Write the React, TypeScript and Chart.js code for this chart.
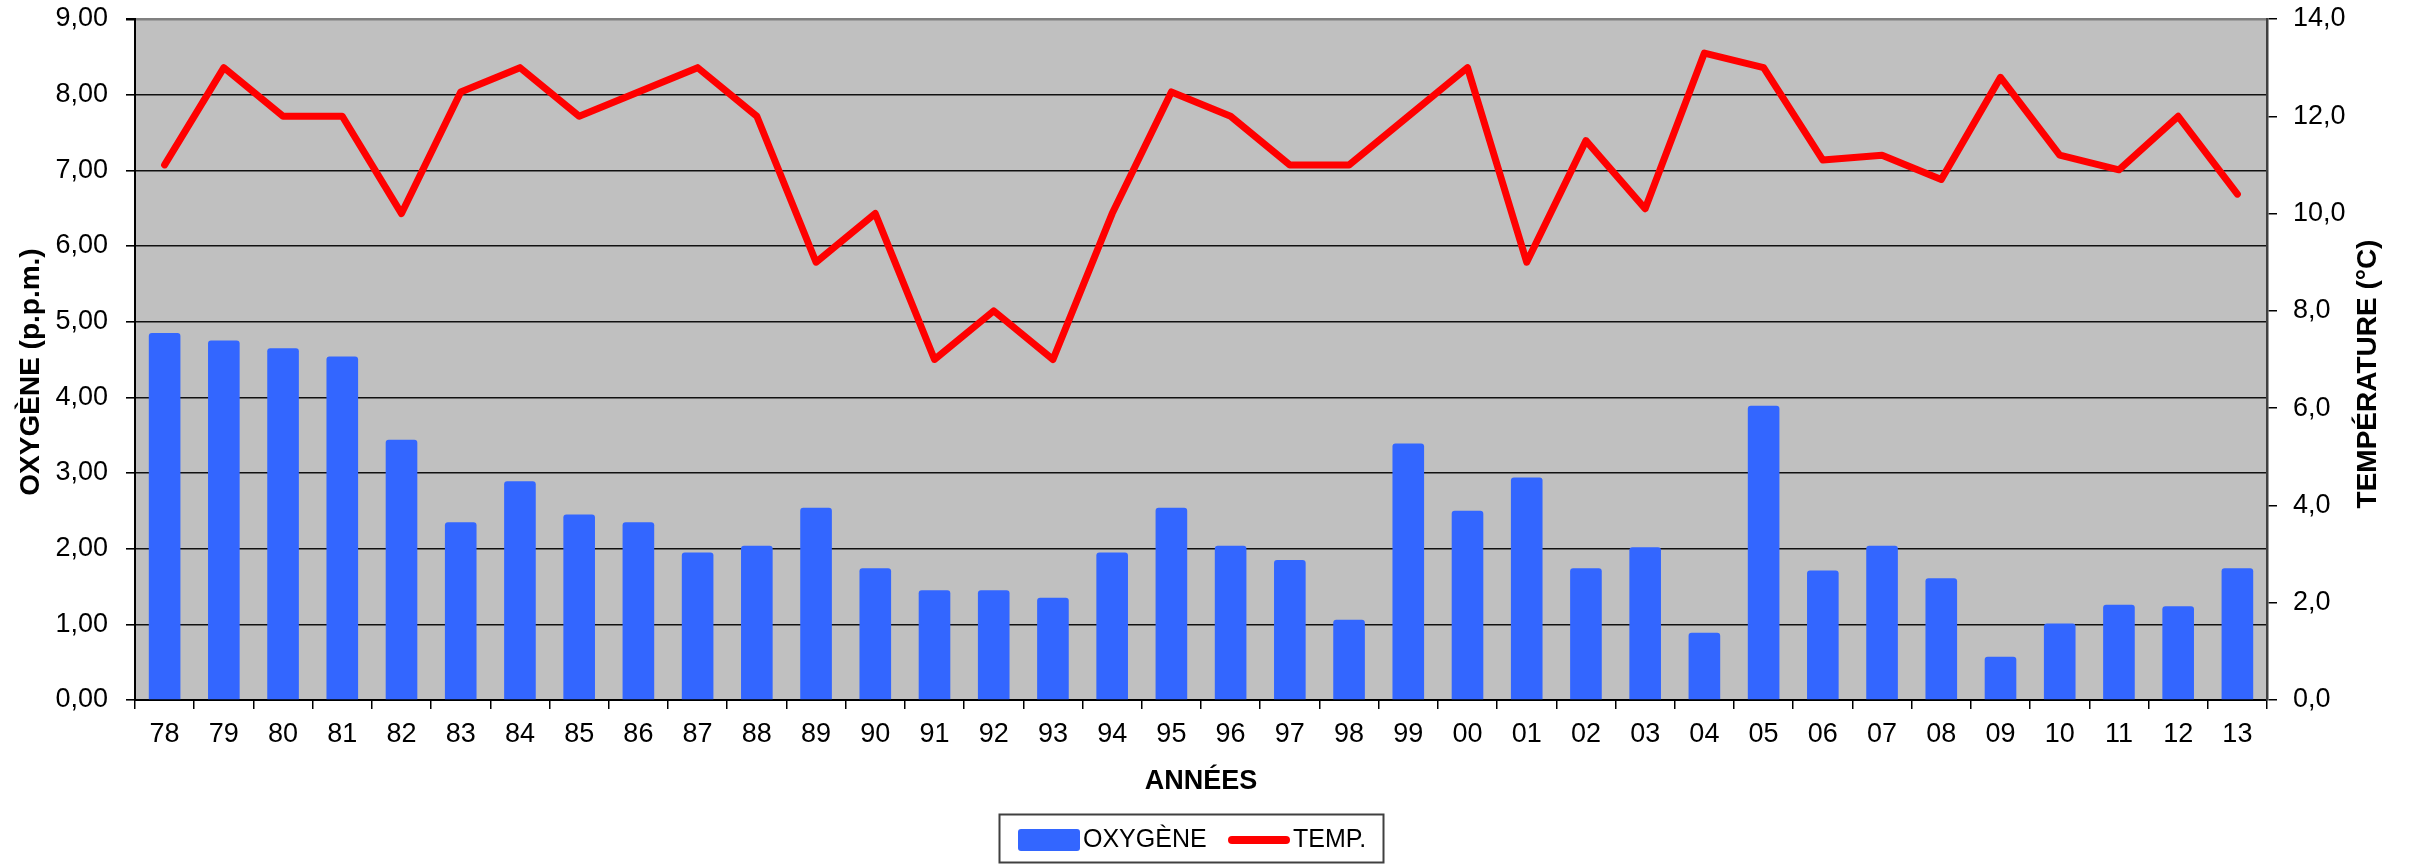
import React, { useEffect, useRef } from 'react';
import { Chart, registerables } from 'chart.js';

Chart.register(...registerables);

const years = ['78', '79', '80', '81', '82', '83', '84', '85', '86', '87', '88', '89', '90', '91', '92', '93', '94', '95', '96', '97', '98', '99', '00', '01', '02', '03', '04', '05', '06', '07', '08', '09', '10', '11', '12', '13'];
const oxygen = [4.85, 4.75, 4.65, 4.54, 3.44, 2.35, 2.89, 2.45, 2.35, 1.95, 2.04, 2.54, 1.74, 1.45, 1.45, 1.35, 1.95, 2.54, 2.04, 1.85, 1.06, 3.39, 2.5, 2.94, 1.74, 2.02, 0.89, 3.89, 1.71, 2.04, 1.61, 0.57, 1.01, 1.26, 1.24, 1.74];
const temperature = [11.0, 13.0, 12.0, 12.0, 10.0, 12.5, 13.0, 12.0, 12.5, 13.0, 12.0, 9.0, 10.0, 7.0, 8.0, 7.0, 10.0, 12.5, 12.0, 11.0, 11.0, 12.0, 13.0, 9.0, 11.5, 10.1, 13.3, 13.0, 11.1, 11.2, 10.7, 12.8, 11.2, 10.9, 12.0, 10.4];

const oxygenLabel = 'OXYGÈNE';
const tempLabel = 'TEMP.';
const xTitle = 'ANNÉES';
const leftTitle = 'OXYGÈNE (p.p.m.)';
const rightTitle = 'TEMPÉRATURE (°C)';

const FONT = "'Liberation Sans', Arial, sans-serif";
const BLUE = '#3366FF';
const RED = '#FF0000';

export default function App() {
  const ref = useRef<HTMLCanvasElement>(null);

  useEffect(() => {
    if (!ref.current) return;

    const drawVerticalTitle = (ctx: any, text: string, x: number, y: number) => {
      ctx.save();
      ctx.translate(x, y);
      ctx.rotate(-Math.PI / 2);
      ctx.font = `bold 28px ${FONT}`;
      ctx.fillStyle = '#000';
      ctx.textAlign = 'center';
      ctx.textBaseline = 'middle';
      ctx.fillText(text, 0, 0);
      ctx.restore();
    };

    const decor = {
      id: 'decor',
      beforeDraw(chart: any) {
        const { ctx, chartArea: a } = chart;
        ctx.save();
        ctx.fillStyle = '#C0C0C0';
        ctx.fillRect(a.left, a.top, a.right - a.left, a.bottom - a.top);
        ctx.restore();
      },
      afterDraw(chart: any) {
        const { ctx } = chart;
        const ds = chart.data.datasets;
        // axis titles (both read bottom to top)
        drawVerticalTitle(ctx, leftTitle, 31, 372);
        drawVerticalTitle(ctx, rightTitle, 2368, 374);

        // legend
        ctx.save();
        ctx.strokeStyle = '#404040';
        ctx.lineWidth = 2;
        ctx.strokeRect(999.5, 814.5, 384, 48);
        ctx.fillStyle = ds[0].backgroundColor;
        ctx.beginPath();
        (ctx as any).roundRect ? (ctx as any).roundRect(1018, 829, 62, 22, 3) : ctx.rect(1018, 829, 62, 22);
        ctx.fill();
        ctx.font = `25px ${FONT}`;
        ctx.fillStyle = '#000';
        ctx.textAlign = 'left';
        ctx.textBaseline = 'middle';
        ctx.fillText(ds[0].label, 1083, 840);
        ctx.strokeStyle = ds[1].borderColor;
        ctx.lineWidth = 8;
        ctx.lineCap = 'round';
        ctx.beginPath();
        ctx.moveTo(1232, 840);
        ctx.lineTo(1286, 840);
        ctx.stroke();
        ctx.fillText(ds[1].label, 1293, 840);
        ctx.restore();
      },
    };

    const chart = new Chart(ref.current, {
      type: 'bar',
      data: {
        labels: years,
        datasets: [
          {
            type: 'bar',
            label: oxygenLabel,
            data: oxygen,
            backgroundColor: BLUE,
            borderWidth: 0,
            borderRadius: 3,
            barPercentage: 0.534,
            categoryPercentage: 1.0,
            yAxisID: 'y',
            order: 2,
          } as any,
          {
            type: 'line',
            label: tempLabel,
            data: temperature,
            borderColor: RED,
            backgroundColor: RED,
            borderWidth: 7,
            pointRadius: 0,
            tension: 0,
            borderJoinStyle: 'round',
            borderCapStyle: 'round',
            yAxisID: 'y2',
            order: 1,
          } as any,
        ],
      },
      options: {
        responsive: false,
        maintainAspectRatio: false,
        animation: false,
        devicePixelRatio: 1,
        layout: { padding: { top: 19, bottom: 50, left: 0, right: 0 } },
        plugins: {
          legend: { display: false },
          tooltip: { enabled: false },
        },
        scales: {
          x: {
            type: 'category',
            offset: true,
            grid: {
              offset: true,
              drawOnChartArea: false,
              drawTicks: true,
              tickLength: 9,
              tickColor: '#000',
              lineWidth: 1.5,
            },
            border: { color: '#000', width: 2 },
            ticks: {
              font: { family: FONT, size: 27 },
              color: '#000',
              padding: 9,
              maxRotation: 0,
              autoSkip: false,
            },
            title: {
              display: true,
              text: xTitle,
              color: '#000',
              font: { family: FONT, size: 27, weight: 'bold' },
              padding: { top: 0, bottom: 16 },
            },
            afterFit: (s: any) => {
              s.height = 114;
              s.paddingLeft = 0;
              s.paddingRight = 0;
            },
          },
          y: {
            position: 'left',
            min: 0,
            max: 9,
            ticks: {
              stepSize: 1,
              font: { family: FONT, size: 27 },
              color: '#000',
              padding: 18,
              callback: (v: any) => Number(v).toFixed(2).replace('.', ','),
            },
            grid: {
              color: (c: any) => (c.tick && c.tick.value === 9 ? '#808080' : '#111111'),
              lineWidth: (c: any) => (c.tick && c.tick.value === 9 ? 2.5 : 1.6),
              tickColor: '#000',
              tickLength: 9,
              drawTicks: true,
            },
            border: { color: '#000', width: 2 },
            afterFit: (s: any) => {
              s.width = 135;
              s.paddingTop = 0;
              s.paddingBottom = 0;
            },
          },
          y2: {
            position: 'right',
            min: 0,
            max: 14,
            ticks: {
              stepSize: 2,
              font: { family: FONT, size: 27 },
              color: '#000',
              padding: 16,
              callback: (v: any) => Number(v).toFixed(1).replace('.', ','),
            },
            grid: {
              drawOnChartArea: false,
              drawTicks: true,
              tickLength: 10,
              tickColor: '#000',
              lineWidth: 1.5,
            },
            border: { color: '#404040', width: 2.5 },
            afterFit: (s: any) => {
              s.width = 144;
              s.paddingTop = 0;
              s.paddingBottom = 0;
            },
          },
        },
      } as any,
      plugins: [decor as any],
    });

    return () => chart.destroy();
  }, []);

  return (
    <div style={{ position: 'absolute', left: 0, top: 0, width: 2411, height: 864, background: '#fff', overflow: 'hidden' }}>
      <canvas ref={ref} width={2411} height={864} style={{ display: 'block', width: 2411, height: 864 }} />
    </div>
  );
}
